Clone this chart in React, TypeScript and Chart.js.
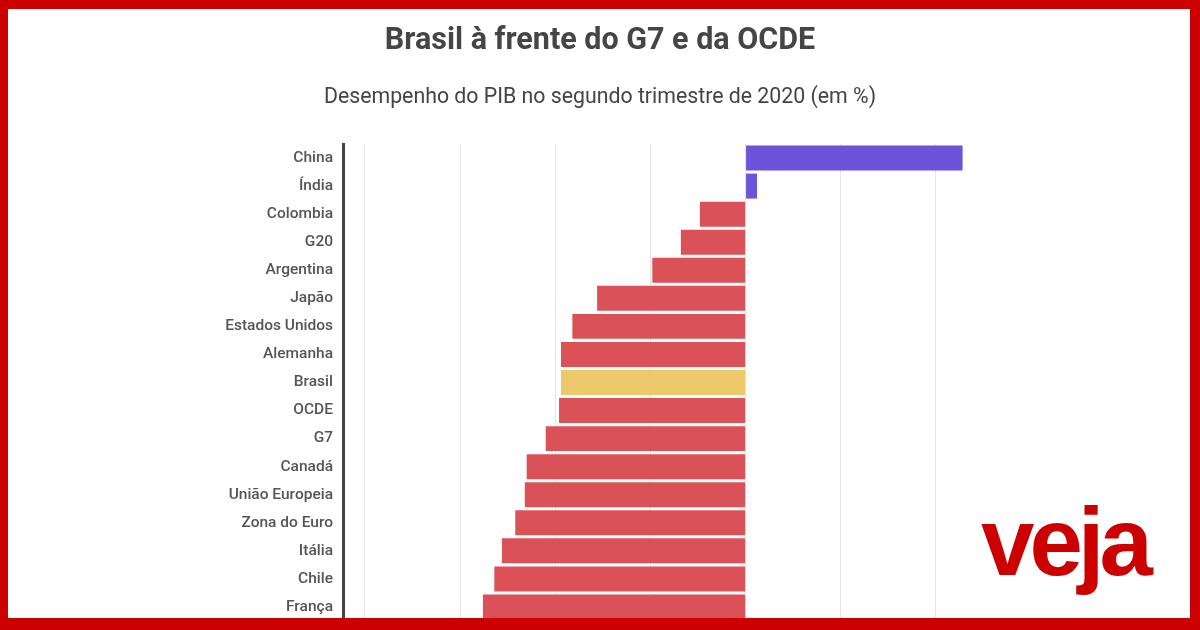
import React, { useEffect, useRef } from "react";
import { Chart, registerables } from "chart.js";

Chart.register(...registerables);

const categories = [
  "China", "Índia", "Colombia", "G20", "Argentina", "Japão", "Estados Unidos",
  "Alemanha", "Brasil", "OCDE", "G7", "Canadá", "União Europeia",
  "Zona do Euro", "Itália", "Chile", "França",
];
const values = [
  11.4, 0.6, -2.4, -3.4, -4.9, -7.8, -9.1,
  -9.7, -9.7, -9.8, -10.5, -11.5, -11.6,
  -12.1, -12.8, -13.2, -13.8,
];
const gridTicks = [-20, -15, -10, -5, 0, 5, 10];
const highlight = "Brasil";
const titleText = "Brasil à frente do G7 e da OCDE";
const subtitleText = "Desempenho do PIB no segundo trimestre de 2020 (em %)";
const logoText = "veja";

export default function App() {
  const ref = useRef<HTMLCanvasElement | null>(null);

  useEffect(() => {
    if (!ref.current) return;
    const colors = categories.map((c, i) =>
      c === highlight ? "#eec96b" : values[i] >= 0 ? "#6b54da" : "#db5158"
    );
    const chart = new Chart(ref.current, {
      type: "bar",
      data: {
        labels: categories,
        datasets: [
          {
            data: values,
            backgroundColor: colors,
            borderWidth: 0,
            barPercentage: 0.89,
            categoryPercentage: 1,
          },
        ],
      },
      options: {
        indexAxis: "y",
        animation: false,
        responsive: false,
        layout: { padding: { top: 144, right: 226, bottom: 9, left: 0 } },
        plugins: {
          legend: { display: false },
          tooltip: { enabled: false },
        },
        scales: {
          x: {
            min: -21.15,
            max: 12,
            ticks: { display: false },
            afterBuildTicks: (scale: any) => {
              scale.ticks = gridTicks.map((v) => ({ value: v }));
            },
            afterFit: (scale: any) => {
              scale.height = 0;
              scale.paddingLeft = 0;
              scale.paddingRight = 0;
            },
            grid: { color: "#e4e4e4", lineWidth: 1, drawTicks: false },
            border: { display: false },
          },
          y: {
            afterFit: (scale: any) => {
              scale.width = 343;
              scale.paddingTop = 0;
              scale.paddingBottom = 0;
            },
            ticks: {
              color: "#555555",
              padding: 10,
              font: { family: "Roboto", size: 15.5, weight: 500 },
              autoSkip: false,
            },
            grid: { display: false, drawTicks: false },
            border: { display: true, color: "#444444", width: 3 },
          },
        },
      },
    });
    return () => chart.destroy();
  }, []);

  return (
    <div
      style={{
        position: "fixed",
        left: 0,
        top: 0,
        width: 1200,
        height: 630,
        background: "#ffffff",
        overflow: "hidden",
      }}
    >
      <canvas
        ref={ref}
        width={1200}
        height={630}
        style={{ position: "absolute", left: 0, top: 0, width: 1200, height: 630 }}
      />
      <div
        style={{
          position: "absolute",
          left: 0,
          top: 22,
          width: 1200,
          textAlign: "center",
          fontFamily: "Roboto",
          fontWeight: 700,
          fontSize: 30.5,
          lineHeight: "34px",
          color: "#454545",
        }}
      >
        {titleText}
      </div>
      <div
        style={{
          position: "absolute",
          left: 0,
          top: 83,
          width: 1200,
          textAlign: "center",
          fontFamily: "Roboto",
          fontWeight: 400,
          fontSize: 21.3,
          lineHeight: "26px",
          color: "#444444",
        }}
      >
        {subtitleText}
      </div>
      <div
        style={{
          position: "absolute",
          left: 981,
          top: 494,
          fontFamily: "Liberation Sans",
          fontWeight: 700,
          fontSize: 96,
          lineHeight: "96px",
          letterSpacing: -5,
          color: "#cc0000",
        }}
      >
        {logoText}
      </div>
      <div
        style={{
          position: "absolute",
          left: 0,
          top: 0,
          width: 1200,
          height: 630,
          boxSizing: "border-box",
          borderStyle: "solid",
          borderColor: "#cc0000",
          borderWidth: "9px 10px 12px 8px",
          pointerEvents: "none",
        }}
      />
    </div>
  );
}
